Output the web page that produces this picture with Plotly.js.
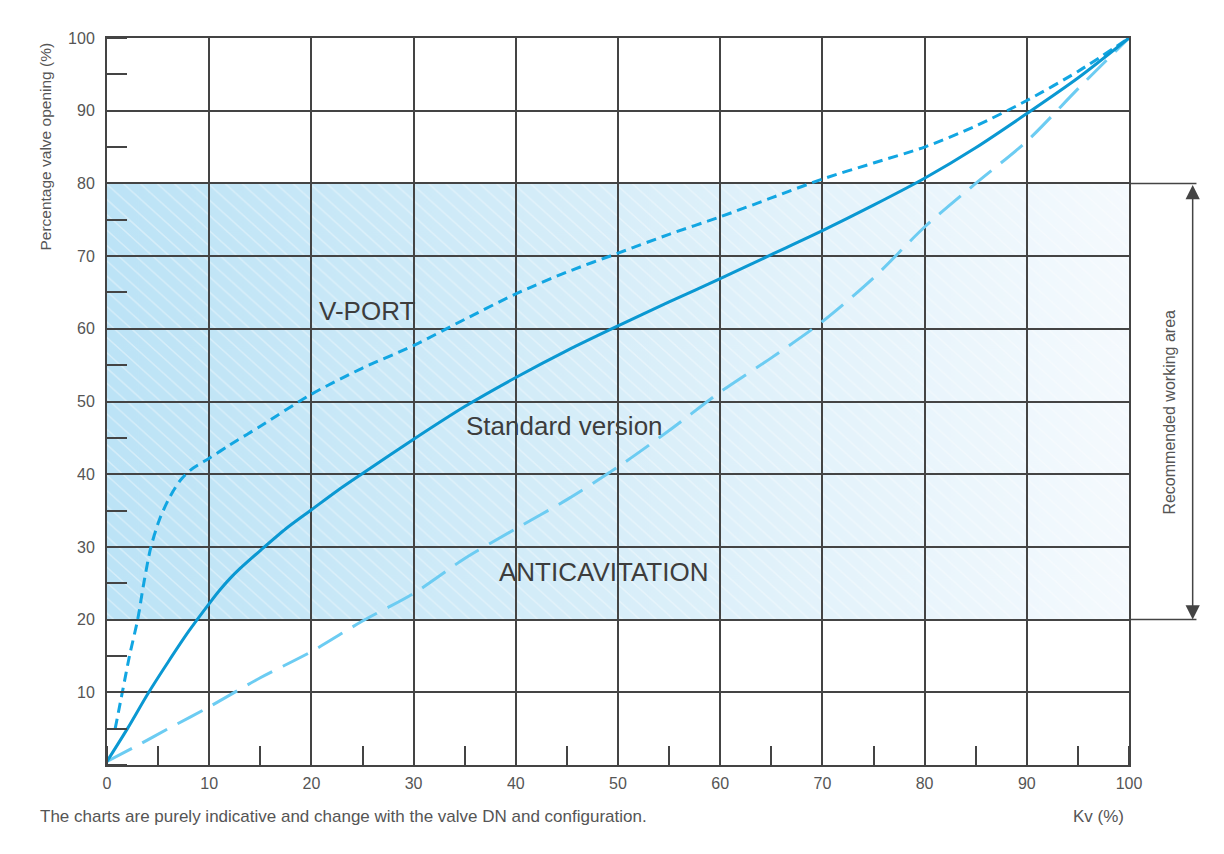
<!DOCTYPE html>
<html>
<head>
<meta charset="utf-8">
<script src="https://cdn.plot.ly/plotly-3.0.1.min.js"></script>
<style>
  html, body { margin: 0; padding: 0; background: #ffffff; }
  #chart { width: 1224px; height: 854px; }
</style>
</head>
<body>
<div id="chart"></div>
<script>
// ---- Data ----
// Kv (%) values and percentage valve opening (%) for each characteristic
const standardKv   = [0, 2, 4, 6, 8, 10, 11, 12, 13, 15, 17.5, 20, 22.5, 25, 30, 35, 40, 45, 50, 55, 60, 65, 70, 75, 80, 85, 90, 95, 100];
const standardOpen = [0.5, 5, 9.8, 14.2, 18.4, 22.2, 24.0, 25.6, 27.0, 29.5, 32.5, 35.1, 37.7, 40.1, 44.8, 49.3, 53.3, 57, 60.4, 63.7, 66.9, 70.2, 73.5, 77, 80.7, 84.9, 89.6, 94.5, 100];

const vportKv   = [0.8, 1.5, 2.2, 3.0, 3.6, 4.3, 5.2, 6.2, 7.2, 8.2, 10, 12, 15, 20, 25, 30, 35, 40, 45, 50, 55, 60, 65, 70, 75, 80, 85, 90, 95, 100];
const vportOpen = [5, 10, 15, 20, 25, 30, 34, 37, 39.2, 40.6, 42.2, 44, 46.6, 51, 54.6, 57.7, 61.3, 64.8, 67.8, 70.4, 73, 75.4, 78, 80.6, 82.8, 85, 87.9, 91.4, 95.4, 100];

const antiKv   = [0, 3, 6, 10, 15, 20, 25, 30, 35, 40, 45, 50, 55, 60, 65, 70, 75, 80, 85, 90, 95, 100];
const antiOpen = [0.5, 2.7, 5, 8, 12, 15.6, 19.8, 23.6, 28.4, 32.5, 36.5, 41, 46, 51.3, 56, 61, 67, 74, 80, 85.8, 93, 100];

// Recommended working area (percentage valve opening)
const workingArea = [20, 80];

// Tick labels
const xTicks = [0, 10, 20, 30, 40, 50, 60, 70, 80, 90, 100];
const yTicks = [10, 20, 30, 40, 50, 60, 70, 80, 90, 100];

// Texts
const seriesNames = ['Standard version', 'V-PORT', 'ANTICAVITATION'];
const labelPos = { 'V-PORT': [25.4, 62.4], 'Standard version': [44.8, 46.6], 'ANTICAVITATION': [48.6, 26.6] };
const yTitle = 'Percentage valve opening (%)';
const xTitle = 'Kv (%)';
const footNote = 'The charts are purely indicative and change with the valve DN and configuration.';
const areaLabel = 'Recommended working area';

// ---- Band image (gradient + white diagonal hatching) ----
function bandImage() {
  const w = 1024, h = 440;
  const c = document.createElement('canvas');
  c.width = w; c.height = h;
  const g = c.getContext('2d');
  const grad = g.createLinearGradient(0, 0, w, 0);
  grad.addColorStop(0, '#bce3f6');
  grad.addColorStop(0.5, '#d8eef9');
  grad.addColorStop(1, '#f5fafe');
  g.fillStyle = grad;
  g.fillRect(0, 0, w, h);
  g.strokeStyle = 'rgba(255,255,255,0.38)';
  g.lineWidth = 1.5;
  const step = 17;
  for (let k = -h * 1.2; k < w + h; k += step) {
    g.beginPath();
    g.moveTo(k, 0);
    g.lineTo(k + h * 1.1, h);
    g.stroke();
  }
  return c.toDataURL('image/png');
}

const FONT = 'Liberation Sans, Arial, sans-serif';
const DARK = '#444444';
const TXT = '#555555';

const traces = [
  { x: antiKv, y: antiOpen, name: seriesNames[2], mode: 'lines',
    line: { color: '#6cccf2', width: 3, dash: '28px,12px', shape: 'spline', smoothing: 0.8 }, hoverinfo: 'skip' },
  { x: vportKv, y: vportOpen, name: seriesNames[1], mode: 'lines',
    line: { color: '#12a6e2', width: 3, dash: '10px,6px', shape: 'spline', smoothing: 0.8 }, hoverinfo: 'skip' },
  { x: standardKv, y: standardOpen, name: seriesNames[0], mode: 'lines',
    line: { color: '#0a98d2', width: 3, shape: 'spline', smoothing: 0.8 }, hoverinfo: 'skip' }
];

const annotations = [];
Object.keys(labelPos).forEach(k => {
  annotations.push({ x: labelPos[k][0], y: labelPos[k][1], xref: 'x', yref: 'y', text: k, showarrow: false,
    font: { family: FONT, size: 26, color: '#3d3d3d' } });
});
annotations.push({ xref: 'paper', yref: 'paper', x: -0.0603, y: 0.997, xanchor: 'center', yanchor: 'top',
  text: yTitle, textangle: -90, showarrow: false, font: { family: FONT, size: 15.5, color: TXT } });
annotations.push({ xref: 'paper', yref: 'paper', x: -0.0672, y: -0.0715, xanchor: 'left', yanchor: 'middle',
  text: footNote, showarrow: false, font: { family: FONT, size: 17, color: TXT } });
annotations.push({ xref: 'paper', yref: 'paper', x: 0.9705, y: -0.0715, xanchor: 'center', yanchor: 'middle',
  text: xTitle, showarrow: false, font: { family: FONT, size: 17, color: TXT } });
annotations.push({ xref: 'paper', yref: 'y', x: 1.0496, y: (workingArea[0] + workingArea[1]) / 2 - 1.5,
  text: areaLabel, textangle: -90, showarrow: false, font: { family: FONT, size: 16, color: TXT } });
// double arrow
annotations.push({ xref: 'paper', yref: 'y', x: 1.0623, y: workingArea[0], axref: 'pixel', ax: 0,
  ayref: 'y', ay: workingArea[1], text: '', showarrow: true, arrowside: 'end+start', arrowhead: 2,
  arrowsize: 1.9, arrowwidth: 1.5, arrowcolor: DARK, standoff: 0, startstandoff: 0 });

const shapes = workingArea.map(v => ({ type: 'line', xref: 'paper', yref: 'y', x0: 1, x1: 1.066, y0: v, y1: v,
  line: { color: DARK, width: 1.5 } }));

const axisCommon = {
  showgrid: true, gridcolor: DARK, gridwidth: 2,
  showline: true, linecolor: DARK, linewidth: 2, mirror: true,
  zeroline: false, ticks: '', fixedrange: true,
  tickfont: { family: FONT, size: 16, color: TXT },
  range: [0, 100], tickmode: 'array'
};

const layout = {
  width: 1224, height: 854,
  margin: { l: 107, r: 95, t: 38, b: 89 },
  paper_bgcolor: '#ffffff', plot_bgcolor: '#ffffff',
  showlegend: false,
  xaxis: Object.assign({}, axisCommon, { tickvals: xTicks, ticktext: xTicks.map(String), ticklabelstandoff: 3,
    minor: { dtick: 5, tick0: 0, ticks: 'inside', ticklen: 19, tickwidth: 2, tickcolor: DARK, showgrid: false } }),
  yaxis: Object.assign({}, axisCommon, { tickvals: yTicks, ticktext: yTicks.map(String), ticklabelstandoff: 7,
    minor: { dtick: 5, tick0: 0, ticks: 'inside', ticklen: 20, tickwidth: 2, tickcolor: DARK, showgrid: false } }),
  images: [{ source: bandImage(), xref: 'x', yref: 'y', x: 0, y: workingArea[1], sizex: 100,
    sizey: workingArea[1] - workingArea[0], xanchor: 'left', yanchor: 'top', sizing: 'stretch', layer: 'below' }],
  shapes: shapes,
  annotations: annotations
};

Plotly.newPlot('chart', traces, layout, { staticPlot: true, displayModeBar: false });
</script>
</body>
</html>
